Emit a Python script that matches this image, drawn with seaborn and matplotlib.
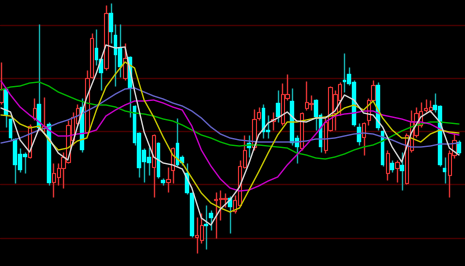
import numpy as np
import pandas as pd
import matplotlib
matplotlib.use("Agg")
import matplotlib.pyplot as plt
import seaborn as sns

# ---- candle data (price units) ----
opens = [164,177,147,127,112,112,109,148,162,138,142,84,89,98,104,126,143,159,134,189,
         218,207,198,253,231,218,188,209,160,133,116,109,99,123,86,84,96,123,109,93,
         73,29,26,42,53,66,67,67,68,55,61,99,123,119,148,158,136,145,163,143,
         168,165,128,118,158,162,166,151,116,136,153,166,186,192,184,139,129,146,166,181,
         135,93,103,98,101,83,116,131,141,156,156,161,160,98,91,111,124]
closes = [177,151,128,101,96,109,140,158,138,140,83,93,98,109,141,149,158,116,188,228,
          206,193,253,234,211,199,208,178,123,98,104,103,131,89,83,87,118,101,103,73,
          30,31,41,40,48,67,68,68,59,66,100,116,118,147,154,134,134,147,149,172,
          172,123,119,153,164,163,149,119,144,179,172,182,184,182,141,124,143,166,181,138,
          101,113,96,104,95,131,145,153,155,158,159,156,101,94,113,126,113]
highs = [204,178,148,128,118,114,142,168,242,169,144,103,103,114,146,154,162,168,196,233,
         237,208,261,263,242,242,223,210,161,134,118,119,132,124,88,99,119,148,111,103,
         74,49,53,61,56,74,76,73,70,71,106,131,131,157,159,162,151,154,176,183,
         192,178,131,154,185,171,167,153,148,180,176,184,213,199,186,143,144,168,186,184,
         136,116,106,106,114,133,156,159,164,167,166,173,161,109,116,133,126]
lows = [162,139,126,83,94,93,108,146,136,134,81,69,81,78,103,121,141,114,133,188,
        201,176,196,223,180,189,186,149,121,89,84,91,69,88,81,74,83,100,101,72,
        29,13,23,17,36,28,46,59,33,53,60,98,109,116,146,128,128,136,144,141,
        166,121,103,116,156,156,136,114,113,135,136,151,174,181,140,121,111,141,165,136,
        100,86,94,84,76,82,114,129,139,154,154,154,100,83,69,108,112]

# ---- moving averages, read every second session ----
ma_sessions = list(range(0, 97, 2))
ma5 = [158,154,126,114,138,128,113,106,139,169,193,221,218,219,175,134,109,103,101,97,
       78,48,41,57,66,79,103,131,143,148,154,145,144,148,148,155,171,166,153,151,
       139,119,104,133,149,155,144,118,111]
ma10 = [151,150,142,138,140,126,116,118,125,128,156,179,192,204,198,166,149,129,111,103,
        88,73,63,58,54,58,76,94,113,131,144,144,146,148,149,151,158,161,156,165,
        148,136,128,128,124,132,136,134,133]
ma20 = [185,171,159,151,144,136,130,130,132,133,136,150,156,161,165,165,166,163,159,156,
        140,116,100,87,78,75,76,80,85,89,101,111,121,132,144,150,152,153,155,155,
        151,149,147,144,144,142,137,133,131]
ma30 = [123,125,128,132,136,139,143,146,150,155,160,166,172,177,178,174,170,167,163,160,
        155,148,139,132,128,126,125,124,124,124,124,124,125,127,127,128,130,132,133,132,
        129,126,122,119,119,120,122,122,123]
ma60 = [176,179,180,183,184,180,174,170,166,163,161,161,159,155,153,152,150,147,145,141,
        136,131,128,124,121,120,121,121,120,119,118,113,111,108,107,109,112,116,119,121,
        125,130,135,139,142,144,144,143,142]

grid_levels = [241.5, 188, 135, 82, 28.5]

UP = "#e03434"
DOWN_BODY = "#00ffff"
DOWN_WICK = "#18b0b0"

sns.set_style("dark")
fig = plt.figure(figsize=(4.65, 2.66), dpi=100)
fig.patch.set_facecolor("black")
ax = fig.add_axes([0, 0, 1, 1])
ax.set_facecolor("black")

for g in grid_levels:
    ax.axhline(g, color="#480000", lw=1.0, zorder=1)

df = pd.DataFrame({"o": opens, "c": closes, "h": highs, "l": lows})
df["i"] = np.arange(len(df))
up = df[df.c >= df.o]
dn = df[df.c < df.o]

ax.vlines(up.i, up.l, up.h, color=UP, lw=1.0, zorder=2)
ax.vlines(dn.i, dn.l, dn.h, color=DOWN_WICK, lw=1.0, zorder=2)
ax.bar(up.i, (up.c - up.o).clip(lower=0.8), bottom=up.o, width=0.72,
       facecolor="black", edgecolor=UP, linewidth=0.85, zorder=3)
ax.bar(dn.i, dn.c - dn.o, bottom=dn.o, width=0.78,
       facecolor=DOWN_BODY, edgecolor=DOWN_BODY, linewidth=0.3, zorder=3)

ma = pd.DataFrame({"s": ma_sessions, "MA5": ma5, "MA10": ma10, "MA20": ma20,
                   "MA30": ma30, "MA60": ma60})
colors = {"MA60": "#00b400", "MA30": "#6464c8", "MA20": "#c800c8",
          "MA10": "#c8c800", "MA5": "#d8d8d8"}
for name in ["MA60", "MA30", "MA20", "MA10", "MA5"]:
    sns.lineplot(data=ma, x="s", y=name, color=colors[name], lw=1.0, ax=ax,
                 zorder=4, legend=False)

ax.set_xlim(-0.21, 97.27)
ax.set_ylim(0, 266)
ax.set_axis_off()
fig.savefig("out.png", dpi=100, facecolor="black")
